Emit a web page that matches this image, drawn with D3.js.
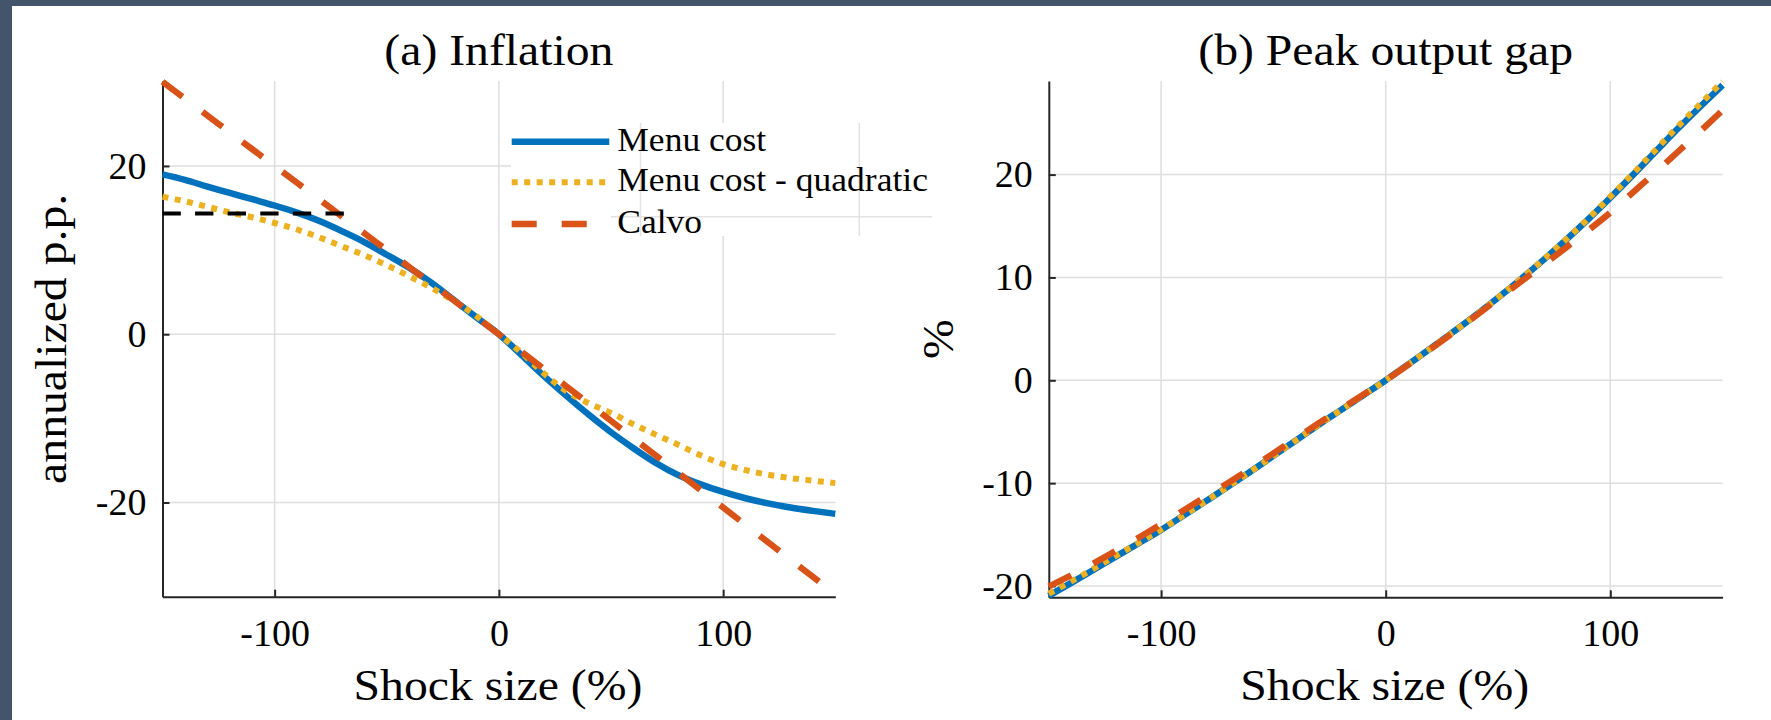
<!DOCTYPE html>
<html>
<head>
<meta charset="utf-8">
<script src="https://cdn.jsdelivr.net/npm/d3@7"></script>
<style>
html, body { margin: 0; padding: 0; background: #fff; }
</style>
</head>
<body>
<svg id="fig" width="1771" height="720"></svg>
<script>
"use strict";

// shock size (%) - common x grid of every series
const shock = [-150, -140, -130, -120, -110, -100, -90, -80, -70, -60, -50, -40, -30, -20, -10,
               0, 10, 20, 30, 40, 50, 60, 70, 80, 90, 100, 110, 120, 130, 140, 150];

// (a) inflation, annualized p.p.
const inflMenu  = [19.00, 18.35, 17.55, 16.80, 16.05, 15.30, 14.45, 13.45, 12.25, 10.95, 9.45, 7.90, 6.10, 4.05, 2.00,
                   0, -2.45, -4.95, -7.30, -9.55, -11.65, -13.55, -15.30, -16.75, -17.85, -18.75, -19.50, -20.10, -20.60, -21.00, -21.35];
const inflQuad  = [16.35, 15.80, 15.15, 14.48, 13.90, 13.22, 12.45, 11.50, 10.45, 9.40, 8.20, 6.90, 5.50, 3.95, 2.15,
                   0, -2.20, -4.65, -6.75, -8.20, -9.35, -10.70, -11.95, -13.15, -14.40, -15.45, -16.15, -16.70, -17.10, -17.40, -17.70];
const inflCalvo = [30.0, 28.0, 26.0, 24.0, 22.0, 20.0, 18.0, 16.0, 14.0, 12.0, 10.0, 8.0, 6.0, 4.0, 2.0,
                   0, -2.06, -4.12, -6.18, -8.24, -10.30, -12.36, -14.42, -16.48, -18.54, -20.60, -22.66, -24.72, -26.78, -28.84, -30.90];
// black dashed reference segment in (a)
const flatX = [-150, -68];
const flatY = [14.35, 14.35];

// (b) peak output gap, %
const gapMenu  = [-20.95, -19.70, -18.42, -17.12, -15.85, -14.55, -13.15, -11.75, -10.30, -8.85, -7.35, -5.85, -4.35, -2.90, -1.45,
                  0, 1.55, 3.10, 4.70, 6.32, 8.02, 9.80, 11.66, 13.60, 15.62, 17.75, 19.95, 22.20, 24.45, 26.60, 28.70];
const gapQuad  = [-20.75, -19.55, -18.32, -17.05, -15.80, -14.52, -13.13, -11.74, -10.30, -8.85, -7.35, -5.85, -4.35, -2.90, -1.45,
                  0, 1.55, 3.10, 4.70, 6.32, 8.03, 9.82, 11.69, 13.64, 15.68, 17.85, 20.08, 22.36, 24.66, 26.86, 29.05];
const gapCalvo = [-20.05, -18.95, -17.78, -16.55, -15.30, -14.00, -12.65, -11.30, -9.95, -8.55, -7.10, -5.65, -4.20, -2.80, -1.40,
                  0, 1.50, 3.05, 4.62, 6.25, 7.90, 9.55, 11.20, 12.85, 14.55, 16.30, 18.25, 20.20, 22.20, 24.20, 26.25];

const xDomain = [-150, 150];
const inflDomain = [-31.2, 30.1];
const gapDomain = [-21.1, 29.1];
const xTicks = [-100, 0, 100];
const inflTicks = [-20, 0, 20];
const gapTicks = [-20, -10, 0, 10, 20];

const legendLabels = ["Menu cost", "Menu cost - quadratic", "Calvo"];

// matlab default colours
const styles = [
    { color: "#0072BD", width: 6.5, dash: null },
    { color: "#EDB120", width: 6,   dash: "6,6.5" },
    { color: "#D95319", width: 6.3, dash: "25,25" }
];

const FONT = "'Liberation Serif', 'DejaVu Serif', serif";

const svg = d3.select("#fig").style("font-family", FONT);

// stretch Times a bit so it takes the room of Computer Modern
function widen(sel, k) {
    sel.each(function () {
        const w = this.getComputedTextLength();
        d3.select(this).attr("textLength", w * k).attr("lengthAdjust", "spacingAndGlyphs");
    });
}

function txt(g, size) {
    return g.append("text").style("font-family", FONT).style("font-size", size + "px").attr("fill", "#000");
}

// screenshot frame
svg.append("rect").attr("x", 0).attr("y", 0).attr("width", 1771).attr("height", 720).attr("fill", "#fff");
svg.append("rect").attr("x", 0).attr("y", 0).attr("width", 1771).attr("height", 6).attr("fill", "#44546b");
svg.append("rect").attr("x", 0).attr("y", 0).attr("width", 12).attr("height", 720).attr("fill", "#44546b");

function panel(p) {
    const g = svg.append("g");
    const x = d3.scaleLinear().domain(xDomain).range([p.left, p.right]);
    const y = d3.scaleLinear().domain(p.domain).range([p.bottom, p.top]);

    // grid
    g.selectAll(".gx").data(xTicks).join("line")
        .attr("x1", d => x(d)).attr("x2", d => x(d))
        .attr("y1", p.top).attr("y2", p.bottom)
        .attr("stroke", "#dedede").attr("stroke-width", 1.5);
    g.selectAll(".gy").data(p.ticks).join("line")
        .attr("x1", p.left).attr("x2", p.right)
        .attr("y1", d => y(d)).attr("y2", d => y(d))
        .attr("stroke", "#dedede").attr("stroke-width", 1.5);

    // axes, ticks pointing inwards
    const ax = g.append("g").attr("transform", `translate(0,${p.bottom})`)
        .call(d3.axisBottom(x).tickValues(xTicks).tickSize(-7).tickSizeOuter(0)
            .tickPadding(22).tickFormat(d => String(d)));
    const ay = g.append("g").attr("transform", `translate(${p.left},0)`)
        .call(d3.axisLeft(y).tickValues(p.ticks).tickSize(-7).tickSizeOuter(0)
            .tickPadding(16).tickFormat(d => String(d)));
    [ax, ay].forEach(a => {
        a.attr("font-family", FONT).attr("font-size", 38);
        a.select(".domain").attr("stroke", "#262626").attr("stroke-width", 2);
        a.selectAll(".tick line").attr("stroke", "#262626").attr("stroke-width", 2);
        a.selectAll(".tick text").attr("fill", "#000")
            .style("font-family", FONT).style("font-size", "38px");
    });

    // data
    const line = d3.line().curve(d3.curveMonotoneX).x(d => x(d[0])).y(d => y(d[1]));
    p.series.forEach((vals, i) => {
        const st = styles[i];
        g.append("path")
            .datum(d3.zip(shock, vals))
            .attr("d", line)
            .attr("fill", "none")
            .attr("stroke", st.color)
            .attr("stroke-width", st.width)
            .attr("stroke-dasharray", st.dash)
            .attr("stroke-linejoin", "round");
    });
    if (p.extra) {
        g.append("path")
            .datum(d3.zip(p.extra[0], p.extra[1]))
            .attr("d", line)
            .attr("fill", "none")
            .attr("stroke", "#000")
            .attr("stroke-width", 4)
            .attr("stroke-dasharray", "18.3,14.3");
    }

    // title and labels
    const cx = (p.left + p.right) / 2;
    txt(g, 45).attr("x", cx).attr("y", 65).attr("text-anchor", "middle")
        .text(p.title).call(widen, 1.06);
    txt(g, 45).attr("x", cx - 1).attr("y", 700).attr("text-anchor", "middle")
        .text("Shock size (%)").call(widen, 1.06);
    txt(g, 45).attr("transform", `translate(${p.ylabX},${(p.top + p.bottom) / 2}) rotate(-90)`)
        .attr("text-anchor", "middle")
        .text(p.ylabel).call(widen, 1.06);
    return g;
}

panel({
    left: 162.5, right: 835.3, top: 81, bottom: 596.7,
    domain: inflDomain, ticks: inflTicks,
    series: [inflMenu, inflQuad, inflCalvo],
    extra: [flatX, flatY],
    title: "(a) Inflation", ylabel: "annualized p.p.", ylabX: 65.7
});

panel({
    left: 1048.8, right: 1722.6, top: 81, bottom: 597.3,
    domain: gapDomain, ticks: gapTicks,
    series: [gapMenu, gapQuad, gapCalvo],
    title: "(b) Peak output gap", ylabel: "%", ylabX: 953
});

// legend of panel (a)
const lg = svg.append("g");
lg.append("rect").attr("x", 511).attr("y", 123).attr("width", 422).attr("height", 113).attr("fill", "#fff");
// faint leftover lines visible through the legend box
lg.append("line").attr("x1", 640.5).attr("x2", 640.5).attr("y1", 123).attr("y2", 236)
    .attr("stroke", "#e3e3e3").attr("stroke-width", 1.5);
lg.append("line").attr("x1", 859.3).attr("x2", 859.3).attr("y1", 123).attr("y2", 236)
    .attr("stroke", "#e3e3e3").attr("stroke-width", 1.5);
lg.append("line").attr("x1", 611).attr("x2", 932).attr("y1", 216.7).attr("y2", 216.7)
    .attr("stroke", "#e3e3e3").attr("stroke-width", 1.5);

const rowY = [141.7, 182.3, 224];
legendLabels.forEach((lab, i) => {
    const st = styles[i];
    lg.append("line").attr("x1", 511.7).attr("x2", 609.3).attr("y1", rowY[i]).attr("y2", rowY[i])
        .attr("stroke", st.color).attr("stroke-width", st.width).attr("stroke-dasharray", st.dash);
    txt(lg, 33.5).attr("x", 617.3).attr("y", rowY[i] + 9).text(lab).call(widen, 1.06);
});
</script>
</body>
</html>
